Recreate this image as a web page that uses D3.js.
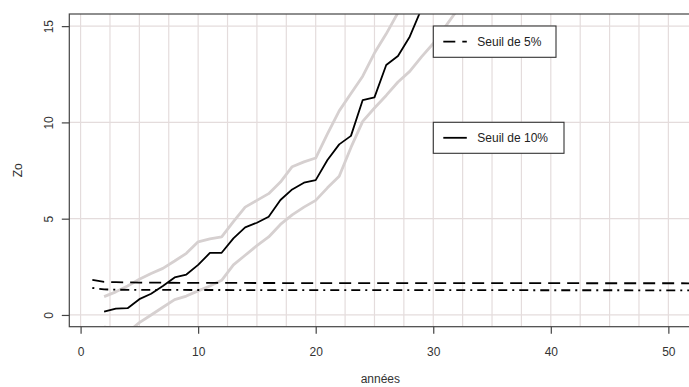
<!DOCTYPE html>
<html><head><meta charset="utf-8">
<script src="https://cdn.jsdelivr.net/npm/d3@7"></script>
<style>
html,body{margin:0;padding:0;background:#fff;}
svg{display:block;font-family:"Liberation Sans",Arial,sans-serif;}
</style></head>
<body><svg id="c" width="689" height="387"></svg>
<script>
// ---- data ----
const anneesCourbe = [2,3,4,5,6,7,8,9,10,11,12,13,14,15,16,17,18,19,20,21,22,23,24,25,26,27,28,29,30,31,32,33];
const zo        = [0.17,0.33,0.35,0.82,1.1,1.5,1.95,2.1,2.6,3.22,3.23,3.98,4.55,4.79,5.1,5.97,6.52,6.87,7.0,8.05,8.86,9.3,11.16,11.3,12.98,13.45,14.45,15.9,17.2];
const zoHaut    = [0.95,1.2,1.5,1.85,2.15,2.42,2.8,3.2,3.8,3.95,4.05,4.85,5.6,5.95,6.3,6.9,7.7,7.95,8.15,9.4,10.6,11.5,12.4,13.6,14.6,15.7,16.8];
const zoBas     = [-0.62,-0.75,-0.9,-0.4,0.0,0.4,0.8,0.98,1.25,1.5,1.8,2.6,3.1,3.6,4.05,4.7,5.2,5.6,5.95,6.6,7.2,8.7,10.05,10.75,11.4,12.1,12.65,13.4,14.1,14.95,15.8,16.6];
const seuil5X   = [1,2,3,5,10,20,52];
const seuil5    = [1.82,1.72,1.70,1.68,1.665,1.655,1.645];
const seuil10X  = [1,2,3,5,20,52];
const seuil10   = [1.40,1.33,1.31,1.30,1.29,1.28];
const xTicks = [0,10,20,30,40,50];
const yTicks = [0,5,10,15];
const legendLabels = ["Seuil de 5%","Seuil de 10%"];

// ---- layout ----
const svg = d3.select("#c");
const L = 69.3, R = 691.4, T = 14, B = 326.7;
const x = d3.scaleLinear().domain([-0.96, 51.96]).range([L, R]);
const y = d3.scaleLinear().domain([-0.61, 15.63]).range([B, T]);

svg.append("defs").append("clipPath").attr("id","clip")
  .append("rect").attr("x",L).attr("y",T).attr("width",R-L).attr("height",B-T);

const gridCol = "#e4dcdc";
const g = svg.append("g");
g.selectAll("line.vx").data(d3.range(0, 52, 2.5)).enter().append("line")
  .attr("x1",d=>x(d)).attr("x2",d=>x(d)).attr("y1",T).attr("y2",B)
  .attr("stroke",gridCol).attr("stroke-width",1.2);
g.selectAll("line.hy").data(yTicks).enter().append("line")
  .attr("x1",L).attr("x2",R).attr("y1",d=>y(d)).attr("y2",d=>y(d))
  .attr("stroke",gridCol).attr("stroke-width",1.2);

const plot = svg.append("g").attr("clip-path","url(#clip)");
const line = d3.line().x(d=>x(d[0])).y(d=>y(d[1]));
const zipXY = (xs, ys) => ys.map((v,i)=>[xs[i], v]);

plot.append("path").datum(zipXY(anneesCourbe, zoHaut)).attr("d",line)
  .attr("fill","none").attr("stroke","#d6d0d0").attr("stroke-width",2.8).attr("stroke-linejoin","round");
plot.append("path").datum(zipXY(anneesCourbe, zoBas)).attr("d",line)
  .attr("fill","none").attr("stroke","#d6d0d0").attr("stroke-width",2.8).attr("stroke-linejoin","round");
plot.append("path").datum(zipXY(anneesCourbe, zo)).attr("d",line)
  .attr("fill","none").attr("stroke","#000").attr("stroke-width",1.8).attr("stroke-linejoin","round");
plot.append("path").datum(zipXY(seuil5X, seuil5)).attr("d",line)
  .attr("fill","none").attr("stroke","#000").attr("stroke-width",1.8).attr("stroke-dasharray","12,7");
plot.append("path").datum(zipXY(seuil10X, seuil10)).attr("d",line)
  .attr("fill","none").attr("stroke","#000").attr("stroke-width",1.8).attr("stroke-dasharray","2,5,9,5");

// box
svg.append("rect").attr("x",L).attr("y",T).attr("width",R-L).attr("height",B-T)
  .attr("fill","none").attr("stroke","#444").attr("stroke-width",1.2);

// axes
const textCol = "#333";
const ax = svg.append("g").attr("transform",`translate(0,${B})`)
  .call(d3.axisBottom(x).tickValues(xTicks).tickSize(7).tickPadding(14).tickFormat(d3.format("d")));
ax.select(".domain").remove();
ax.selectAll("line").attr("stroke","#444").attr("stroke-width",1.2);
ax.selectAll("text").attr("fill",textCol).attr("font-size",12).attr("font-family","Liberation Sans, Arial, sans-serif");

const ay = svg.append("g").attr("transform",`translate(${L},0)`)
  .call(d3.axisLeft(y).tickValues(yTicks).tickSize(7.5).tickFormat(d3.format("d")));
ay.select(".domain").remove();
ay.selectAll("line").attr("stroke","#444").attr("stroke-width",1.2);
ay.selectAll("text").attr("fill",textCol).attr("font-size",12).attr("font-family","Liberation Sans, Arial, sans-serif")
  .attr("transform","rotate(-90)").attr("x",0).attr("y",-16).attr("dy",0).attr("text-anchor","middle");

svg.append("text").attr("x",(L+R)/2).attr("y",383).attr("text-anchor","middle")
  .attr("font-size",12).attr("fill",textCol).text("années");
svg.append("text").attr("transform",`translate(21.5,${(T+B)/2}) rotate(-90)`).attr("text-anchor","middle")
  .attr("font-size",12).attr("fill",textCol).text("Zo");

// legends
const legends = [
  {x:433.3, y:26, w:122.7, h:31.3, dash:"12,7", label:legendLabels[0]},
  {x:433.3, y:122.3, w:130.7, h:31, dash:null, label:legendLabels[1]}
];
legends.forEach(lg=>{
  svg.append("rect").attr("x",lg.x).attr("y",lg.y).attr("width",lg.w).attr("height",lg.h)
    .attr("fill","#fff").attr("stroke","#333").attr("stroke-width",1.1);
  const ly = lg.y + lg.h/2;
  const s = svg.append("line").attr("x1",lg.x+10).attr("x2",lg.x+33.5).attr("y1",ly).attr("y2",ly)
    .attr("stroke","#000").attr("stroke-width",1.8);
  if (lg.dash) s.attr("stroke-dasharray",lg.dash);
  svg.append("text").attr("x",lg.x+44).attr("y",ly+4.3).attr("font-size",12).attr("fill","#222").text(lg.label);
});
</script></body></html>
